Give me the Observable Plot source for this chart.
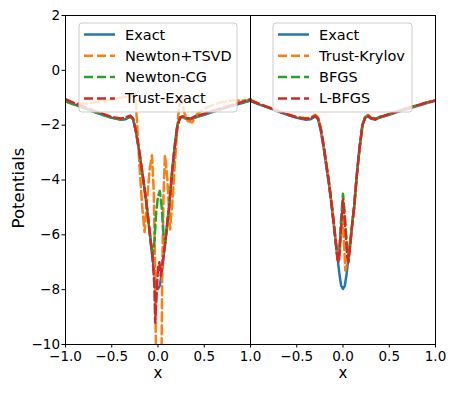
<!DOCTYPE html>
<html><head><meta charset="utf-8">
<script src="https://cdn.jsdelivr.net/npm/d3@7"></script>
<script src="https://cdn.jsdelivr.net/npm/@observablehq/plot@0.6"></script>
<style>body{margin:0;background:#fff}#chart{width:457px;height:394px}</style>
</head><body><div id="chart"></div>
<script>
// ---- data ----
const exactX = [-1,-0.9,-0.8,-0.7,-0.6,-0.5,-0.4,-0.35,-0.3,-0.27,-0.24,-0.21,-0.18,-0.15,-0.12,-0.09,-0.06,-0.04,-0.02,0,0.02,0.04,0.06,0.09,0.12,0.15,0.18,0.21,0.24,0.27,0.3,0.35,0.4,0.5,0.6,0.7,0.8,0.9,1];
const exactY = [-1.12,-1.25,-1.37,-1.5,-1.62,-1.73,-1.8,-1.78,-1.68,-1.78,-2.2,-2.8,-3.5,-4.2,-5.0,-5.9,-6.8,-7.4,-7.85,-7.97,-7.85,-7.4,-6.8,-5.9,-5.0,-3.8,-2.8,-2.0,-1.72,-1.68,-1.76,-1.8,-1.72,-1.62,-1.5,-1.4,-1.3,-1.2,-1.1];

// left panel
const tsvdX = [-1,-0.9,-0.8,-0.7,-0.6,-0.5,-0.4,-0.32,-0.27,-0.245,-0.225,-0.2,-0.17,-0.145,-0.12,-0.09,-0.065,-0.045,-0.03,-0.022,0.038,0.045,0.06,0.075,0.1,0.13,0.16,0.19,0.22,0.25,0.28,0.32,0.37,0.42,0.5,0.6,0.7,0.8,0.9,1];
const tsvdY = [-1.12,-1.2,-1.22,-1.18,-1.12,-1.06,-1.0,-0.97,-0.92,-0.85,-2.0,-3.5,-5.0,-5.9,-4.8,-3.6,-3.1,-4.5,-7.5,-10.5,-10.5,-7.5,-4.5,-3.1,-3.9,-5.8,-4.6,-3.0,-1.6,-0.85,-1.5,-1.85,-1.9,-1.6,-1.4,-1.25,-1.15,-1.1,-1.1,-1.1];
const ncgX = [-1,-0.9,-0.8,-0.7,-0.6,-0.5,-0.4,-0.35,-0.3,-0.27,-0.24,-0.21,-0.18,-0.15,-0.12,-0.09,-0.06,-0.04,-0.02,0,0.02,0.04,0.06,0.08,0.1,0.12,0.15,0.18,0.21,0.24,0.27,0.3,0.35,0.4,0.5,0.6,0.7,0.8,0.9,1];
const ncgY = [-1.13,-1.26,-1.38,-1.5,-1.62,-1.73,-1.79,-1.77,-1.7,-1.78,-2.2,-2.8,-3.5,-4.2,-5.0,-5.9,-6.8,-6.3,-5.2,-4.6,-4.4,-5.0,-6.0,-6.3,-5.6,-5.0,-3.8,-2.8,-2.0,-1.72,-1.7,-1.76,-1.78,-1.72,-1.6,-1.48,-1.38,-1.28,-1.18,-1.1];
const trexX = [-1,-0.9,-0.8,-0.7,-0.6,-0.5,-0.4,-0.35,-0.3,-0.27,-0.24,-0.21,-0.18,-0.15,-0.12,-0.09,-0.06,-0.04,-0.03,-0.015,0,0.015,0.03,0.05,0.07,0.09,0.12,0.15,0.18,0.21,0.24,0.27,0.3,0.35,0.4,0.5,0.6,0.7,0.8,0.9,1];
const trexY = [-1.05,-1.2,-1.33,-1.46,-1.58,-1.7,-1.76,-1.72,-1.65,-1.75,-2.2,-2.8,-3.5,-4.2,-5.0,-5.9,-6.8,-7.8,-9.2,-8.2,-7.2,-7.0,-7.5,-7.0,-6.5,-5.9,-5.0,-3.8,-2.8,-2.0,-1.72,-1.68,-1.74,-1.76,-1.68,-1.58,-1.46,-1.36,-1.26,-1.16,-1.05];

// right panel
const krylX = [-1,-0.9,-0.8,-0.7,-0.6,-0.5,-0.4,-0.35,-0.3,-0.27,-0.24,-0.21,-0.18,-0.15,-0.12,-0.09,-0.06,-0.04,-0.02,-0.005,0.01,0.025,0.045,0.07,0.09,0.12,0.15,0.18,0.21,0.24,0.27,0.3,0.35,0.4,0.5,0.6,0.7,0.8,0.9,1];
const krylY = [-1.08,-1.22,-1.35,-1.48,-1.6,-1.7,-1.75,-1.72,-1.62,-1.72,-2.1,-2.7,-3.4,-4.1,-4.9,-5.9,-6.8,-6.9,-5.9,-5.3,-6.2,-7.3,-7.0,-6.4,-5.9,-5.0,-3.8,-2.8,-2.0,-1.7,-1.62,-1.7,-1.76,-1.7,-1.6,-1.48,-1.38,-1.28,-1.18,-1.08];
const bfgsX = [-1,-0.9,-0.8,-0.7,-0.6,-0.5,-0.4,-0.35,-0.3,-0.27,-0.24,-0.21,-0.18,-0.15,-0.12,-0.09,-0.06,-0.045,-0.02,0,0.02,0.045,0.06,0.08,0.1,0.12,0.15,0.18,0.21,0.24,0.27,0.3,0.35,0.4,0.5,0.6,0.7,0.8,0.9,1];
const bfgsY = [-1.1,-1.24,-1.36,-1.49,-1.61,-1.72,-1.77,-1.75,-1.66,-1.76,-2.15,-2.75,-3.45,-4.15,-5.0,-5.9,-6.8,-6.8,-5.4,-4.5,-5.3,-6.5,-6.9,-6.3,-5.6,-5.0,-3.8,-2.8,-2.0,-1.72,-1.66,-1.74,-1.78,-1.7,-1.6,-1.48,-1.38,-1.28,-1.18,-1.1];
const lbfgsX = [-1,-0.9,-0.8,-0.7,-0.6,-0.5,-0.4,-0.35,-0.3,-0.27,-0.24,-0.21,-0.18,-0.15,-0.12,-0.09,-0.06,-0.045,-0.02,0,0.02,0.045,0.06,0.08,0.1,0.12,0.15,0.18,0.21,0.24,0.27,0.3,0.35,0.4,0.5,0.6,0.7,0.8,0.9,1];
const lbfgsY = [-1.1,-1.24,-1.36,-1.49,-1.61,-1.72,-1.77,-1.75,-1.66,-1.76,-2.15,-2.75,-3.45,-4.15,-5.0,-5.9,-6.9,-7.0,-5.7,-4.7,-5.5,-6.8,-7.0,-6.3,-5.6,-5.0,-3.8,-2.8,-2.0,-1.72,-1.66,-1.74,-1.78,-1.7,-1.6,-1.48,-1.38,-1.28,-1.18,-1.1];

const leftLabels = ["Exact","Newton+TSVD","Newton-CG","Trust-Exact"];
const rightLabels = ["Exact","Trust-Krylov","BFGS","L-BFGS"];
const palette = ["#1f77b4","#ff7f0e","#2ca02c","#d62728"];
const panels = ["L","R"];
const panelOffset = {L: 0, R: 2};
const yTicks = [-10,-8,-6,-4,-2,0,2];
const xTicks = [-1,-0.5,0,0.5,1,1.5,2,2.5,3];

// ---- table ----
const rows = [];
function add(key, panel, rank, xs, ys){ xs.forEach((x,i)=>rows.push({key, panel, rank, x, y: ys[i]})); }
add("L-Exact","L",0,exactX,exactY);
add("L-TSVD","L",1,tsvdX,tsvdY);
add("L-NCG","L",2,ncgX,ncgY);
add("L-TREX","L",3,trexX,trexY);
add("R-Exact","R",0,exactX,exactY);
add("R-KRYL","R",1,krylX,krylY);
add("R-BFGS","R",2,bfgsX,bfgsY);
add("R-LBFGS","R",3,lbfgsX,lbfgsY);

const fmt = d3.format(".1f");
const fmtY = d3.format("d");

const lineMark = (rank) => Plot.line(rows.filter(d=>d.rank===rank), {
  x: d => d.x + panelOffset[d.panel], y: "y", z: "key",
  stroke: palette[rank], strokeWidth: 2.5,
  strokeDasharray: rank === 0 ? null : "9,4",
  strokeLinejoin: "round", clip: true
});

const plot = Plot.plot({
  width: 457, height: 394,
  marginLeft: 65, marginRight: 22, marginTop: 15, marginBottom: 50,
  x: {domain: [-1, 3]},
  y: {domain: [-10, 2]},
  style: {fontFamily: "DejaVu Sans", fontSize: "13.5px", color: "black", background: "white"},
  marks: [
    lineMark(0), lineMark(1), lineMark(2), lineMark(3),
    Plot.axisY({ticks: yTicks, tickSize: 3.5, tickPadding: 2, tickFormat: fmtY, label: null}),
    Plot.axisX({ticks: xTicks, tickSize: 3.5, tickPadding: 3, tickFormat: v => fmt(v > 1 ? v - 2 : v), label: null}),
    Plot.frame({stroke: "black", strokeWidth: 1}),
    Plot.ruleX([1], {stroke: "black", strokeWidth: 1}),
    Plot.text(panels, {x: p => panelOffset[p], text: () => "x", frameAnchor: "bottom", dy: 33, fontSize: 15}),
    Plot.text(["Potentials"], {frameAnchor: "left", textAnchor: "middle", dx: -47, dy: 8, rotate: -90, fontSize: 16.5})
  ]
});

document.getElementById("chart").appendChild(plot);

// legends (overlay, semi-transparent like matplotlib)
const svg = d3.select(plot);
function legend(x0, w, labels){
  const g = svg.append("g").attr("font-family","DejaVu Sans").attr("font-size","14.5px").attr("text-anchor","start");
  g.append("rect").attr("x",x0).attr("y",23).attr("width",w).attr("height",89)
    .attr("rx",3).attr("fill","white").attr("fill-opacity",0.8).attr("stroke","#cccccc").attr("stroke-width",1);
  labels.forEach((lab,i)=>{
    const y = 34.5 + i*21.3;
    g.append("line").attr("x1",x0+5).attr("x2",x0+36).attr("y1",y).attr("y2",y)
      .attr("stroke",palette[i]).attr("stroke-width",2.5).attr("stroke-dasharray", i===0?null:"9,4");
    g.append("text").attr("x",x0+46).attr("y",y).attr("dy","0.35em").attr("text-anchor","start").attr("fill","black").text(lab);
  });
}
legend(79, 158, leftLabels);
legend(273, 139, rightLabels);
</script>
</body></html>
